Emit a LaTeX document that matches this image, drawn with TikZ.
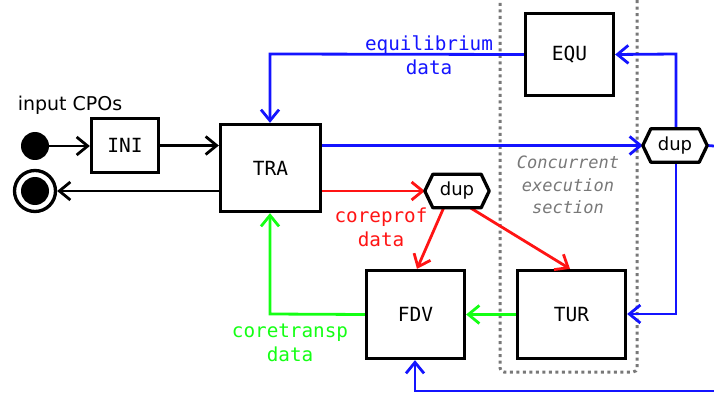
\documentclass[tikz,border=0pt]{standalone}
\usepackage{fontspec}
\setmainfont{DejaVu Sans}
\setsansfont{DejaVu Sans}
\setmonofont{DejaVu Sans Mono}
\usetikzlibrary{arrows.meta,calc}
\definecolor{cblue}{RGB}{20,20,255}
\definecolor{cred}{RGB}{255,20,20}
\definecolor{cgreen}{RGB}{20,255,20}
\definecolor{cgray}{RGB}{120,120,120}
\begin{document}
\begin{tikzpicture}[x=1pt,y=-1pt,
  font=\fontsize{18}{23}\selectfont,
  box/.style={draw=black, line width=3.3pt, inner sep=0pt, font=\ttfamily\fontsize{19.5}{23}\selectfont},
  hexnode/.style={inner sep=0pt, minimum width=64, minimum height=33, font=\sffamily\fontsize{18}{23}\selectfont},
  conn/.style={line width=2.8pt, -{Straight Barb[length=11pt,width=18pt,line width=2.8pt]}},
  plain/.style={line width=2.8pt},
  lbl/.style={align=center, font=\ttfamily\fontsize{19.3}{24}\selectfont, inner sep=0pt},
  hexdraw/.style={draw=black, line width=3.3pt, fill=white, line join=round}
]
\useasboundingbox (0,0) rectangle (714,398);

% concurrent section
\draw[cgray, line width=3pt, dash pattern=on 3pt off 3.5pt, rounded corners=4pt]
  (500,-10) -- (500,372) -- (637,372) -- (637,-10);
\node[lbl, text=cgray, font=\ttfamily\itshape\fontsize{17}{22.5}\selectfont] (conc) at (568,185) {Concurrent\\execution\\section};

% nodes
\node[circle, fill=black, inner sep=0pt, minimum size=28] (start) at (35,146) {};
\node[circle, draw=black, line width=3.3pt, fill=white, inner sep=0pt, minimum size=41] (end) at (35,191) {};
\fill[black] (end.center) circle (14);

\node[font=\sffamily\fontsize{19}{23}\selectfont, inner sep=0pt] (inp) at (70,105) {input CPOs};

\node[box, minimum width=67, minimum height=54] (INI) at (125,145.5) {INI};
\node[box, minimum width=100, minimum height=87] (TRA) at (270.5,168) {TRA};
\node[box, minimum width=88, minimum height=82] (EQU) at (569.5,54.5) {EQU};
\node[box, minimum width=98, minimum height=88] (FDV) at (415.5,314.5) {FDV};
\node[box, minimum width=108, minimum height=88] (TUR) at (571.5,314.5) {TUR};

\node[hexnode] (dupA) at (675,145.5) {};
\node[hexnode] (dupB) at (457,191) {};

% coordinates
\coordinate (eqbend) at (270,54);
\coordinate (dupAtop) at (676,54);
\coordinate (dupAbot) at (676,314);
\coordinate (rightA) at (714,146);
\coordinate (rightB) at (714,391);
\coordinate (botbend) at (415,391);
\coordinate (grbend) at (270,314);
\coordinate (dBl) at (444,207);
\coordinate (dBr) at (469,207);
\coordinate (fdvin) at (417,300);
\coordinate (turin) at (570,300);

% black connectors
\draw[conn] (start) -- (INI.west|-start);
\draw[conn] (INI.east) -- (TRA.west|-INI.east);
\draw[conn] ($(TRA.west)+(0,23)$) -- (end.east|-end);

% blue connectors
\draw[conn, cblue] (EQU.west) -- (eqbend) -- (TRA.north-|eqbend);
\draw[conn, cblue] (TRA.east|-dupA.west) -- (dupA.west);
\draw[plain, cblue] (dupA.east) -- (rightA);
\draw[conn, cblue] (dupA.north-|dupAtop) -- (dupAtop) -- (EQU.east);
\draw[conn, cblue] (dupA.south-|dupAbot) -- (dupAbot) -- (TUR.east|-dupAbot);
\draw[conn, cblue] (rightB) -- (botbend) -- (FDV.south-|botbend);

% red connectors
\draw[conn, cred] (TRA.east|-dupB.west) -- (dupB.west);
\draw[conn, cred] (dBl) -- (fdvin|-FDV.north);
\draw[conn, cred] (dBr) -- (turin|-TUR.north);

% green connectors
\draw[conn, cgreen] (TUR.west) -- (FDV.east);
\draw[conn, cgreen] (FDV.west) -- (grbend) -- (TRA.south-|grbend);

% hexagons
\foreach \h in {dupA,dupB}{
  \draw[hexdraw] (\h.west) -- ($(\h.north west)+(8,0)$) -- ($(\h.north east)+(-8,0)$)
    -- (\h.east) -- ($(\h.south east)+(-8,0)$) -- ($(\h.south west)+(8,0)$) -- cycle;
  \node[font=\sffamily\fontsize{18}{23}\selectfont, inner sep=0pt] at (\h) {dup};
}

% labels
\node[lbl, text=cblue] (leq) at (429,55) {equilibrium\\data};
\node[lbl, text=cred] (lcp) at (381,227) {coreprof\\data};
\node[lbl, text=cgreen] (lct) at (290,343) {coretransp\\data};
\end{tikzpicture}
\end{document}
